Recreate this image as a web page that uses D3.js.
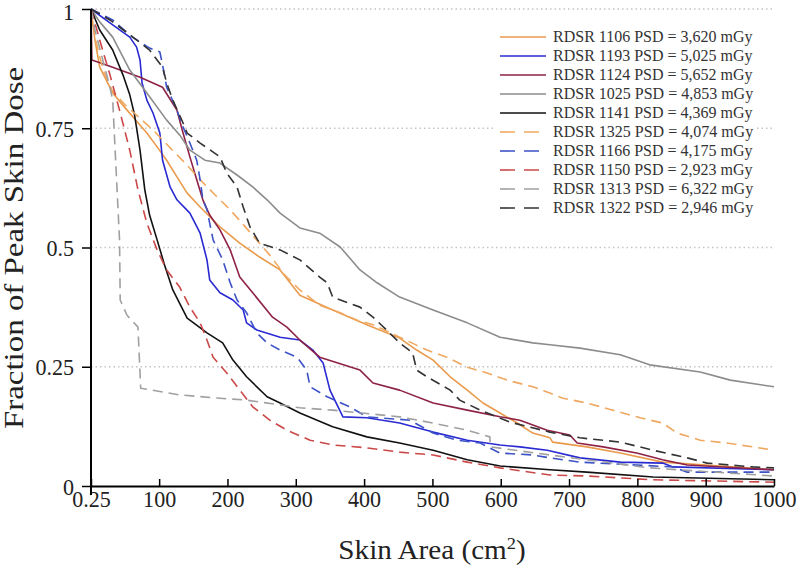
<!DOCTYPE html>
<html><head><meta charset="utf-8">
<script src="https://cdn.jsdelivr.net/npm/d3@7"></script>
<style>body{margin:0;background:#fff}svg{display:block}</style>
</head><body><svg id="c" width="800" height="575"></svg>
<script>
const xTicks = [0.25,100,200,300,400,500,600,700,800,900,1000];
const xTickLabels = ["0.25","100","200","300","400","500","600","700","800","900","1000"];
const yTicks = [0,0.25,0.5,0.75,1];
const yTickLabels = ["0","0.25","0.5","0.75","1"];
const seriesNames = ["RDSR 1106 PSD = 3,620 mGy","RDSR 1193 PSD = 5,025 mGy","RDSR 1124 PSD = 5,652 mGy","RDSR 1025 PSD = 4,853 mGy","RDSR 1141 PSD = 4,369 mGy","RDSR 1325 PSD = 4,074 mGy","RDSR 1166 PSD = 4,175 mGy","RDSR 1150 PSD = 2,923 mGy","RDSR 1313 PSD = 6,322 mGy","RDSR 1322 PSD = 2,946 mGy"];
const s1106 = [[0.25,1],[6,0.935],[13,0.878],[32,0.824],[53,0.788],[82,0.740],[97,0.711],[111,0.683],[126,0.648],[141,0.614],[160,0.585],[189,0.543],[218,0.509],[247,0.480],[277,0.453],[306,0.400],[354,0.369],[404,0.338],[452,0.310],[477,0.285],[501,0.264],[526,0.229],[551,0.201],[574,0.174],[599,0.153],[624,0.132],[647,0.111],[672,0.101],[676,0.092],[726,0.082],[775,0.069],[837,0.050],[921,0.042],[1000,0.034]];
const s1193 = [[0.25,1],[28,0.971],[57,0.941],[67,0.920],[72,0.893],[75,0.845],[82,0.809],[91,0.782],[101,0.740],[105,0.683],[116,0.627],[126,0.600],[145,0.572],[160,0.530],[170,0.474],[174,0.432],[189,0.405],[208,0.390],[223,0.369],[228,0.342],[243,0.327],[277,0.312],[306,0.306],[325,0.285],[340,0.258],[350,0.201],[369,0.145],[404,0.143],[452,0.132],[501,0.113],[551,0.096],[599,0.086],[628,0.082],[668,0.075],[716,0.059],[775,0.050],[837,0.048],[852,0.040],[1000,0.034]];
const s1124 = [[0.25,1],[1.5,0.893],[32,0.878],[72,0.857],[105,0.836],[126,0.788],[135,0.740],[145,0.690],[155,0.642],[164,0.600],[174,0.568],[189,0.537],[204,0.495],[218,0.438],[237,0.405],[266,0.354],[287,0.333],[306,0.306],[335,0.270],[394,0.243],[413,0.216],[452,0.201],[501,0.174],[551,0.159],[599,0.145],[628,0.138],[668,0.117],[701,0.107],[712,0.090],[750,0.082],[799,0.069],[837,0.055],[873,0.044],[1000,0.034]];
const s1025 = [[0.25,1],[13,0.973],[32,0.941],[57,0.872],[82,0.824],[111,0.767],[130,0.736],[145,0.704],[167,0.683],[189,0.677],[214,0.652],[237,0.627],[258,0.600],[277,0.572],[306,0.541],[335,0.530],[365,0.501],[394,0.453],[419,0.426],[452,0.396],[501,0.369],[551,0.342],[599,0.312],[647,0.300],[672,0.296],[716,0.289],[775,0.275],[818,0.254],[892,0.239],[936,0.222],[1000,0.208]];
const s1141 = [[0.25,1],[13,0.956],[32,0.914],[47,0.862],[57,0.820],[64,0.778],[72,0.704],[79,0.621],[86,0.568],[97,0.516],[108,0.463],[120,0.411],[141,0.352],[170,0.321],[193,0.300],[208,0.264],[228,0.229],[258,0.187],[277,0.174],[306,0.153],[354,0.124],[404,0.103],[452,0.090],[501,0.075],[551,0.055],[599,0.042],[672,0.034],[726,0.029],[823,0.019],[1000,0.013]];
const s1325 = [[0.25,1],[7,0.935],[18,0.872],[31,0.830],[50,0.799],[72,0.771],[94,0.742],[116,0.709],[138,0.677],[160,0.642],[182,0.610],[204,0.579],[233,0.532],[262,0.484],[284,0.442],[306,0.411],[335,0.379],[365,0.363],[389,0.348],[413,0.338],[452,0.312],[492,0.285],[521,0.270],[551,0.249],[580,0.237],[609,0.222],[647,0.208],[672,0.195],[691,0.184],[726,0.174],[764,0.159],[804,0.143],[837,0.132],[858,0.111],[892,0.096],[931,0.090],[969,0.082],[1000,0.075]];
const s1166 = [[0.25,1],[32,0.977],[61,0.941],[86,0.918],[101,0.910],[105,0.883],[111,0.836],[126,0.788],[135,0.753],[145,0.719],[155,0.683],[160,0.642],[164,0.600],[170,0.579],[179,0.516],[193,0.474],[204,0.426],[214,0.390],[228,0.363],[243,0.321],[258,0.300],[277,0.285],[302,0.270],[316,0.243],[321,0.208],[346,0.187],[379,0.166],[404,0.145],[467,0.138],[501,0.111],[536,0.096],[570,0.090],[599,0.069],[647,0.065],[672,0.059],[716,0.050],[852,0.040],[873,0.029],[1000,0.029]];
const s1150 = [[0.25,1],[13,0.935],[28,0.862],[42,0.788],[57,0.704],[69,0.621],[82,0.551],[97,0.495],[111,0.453],[130,0.417],[145,0.375],[160,0.342],[170,0.306],[179,0.270],[199,0.237],[218,0.201],[237,0.166],[262,0.138],[287,0.117],[321,0.096],[354,0.086],[404,0.080],[452,0.071],[501,0.065],[551,0.050],[599,0.038],[672,0.023],[726,0.021],[823,0.013],[1000,0.008]];
const s1313 = [[0.25,1],[6,0.956],[28,0.836],[32,0.809],[42,0.516],[43,0.390],[53,0.358],[69,0.333],[73,0.205],[130,0.191],[189,0.184],[228,0.180],[306,0.164],[354,0.159],[452,0.145],[501,0.132],[551,0.117],[584,0.103],[585,0.082],[672,0.065],[818,0.038],[1000,0.021]];
const s1322 = [[0.25,1],[28,0.977],[57,0.946],[86,0.914],[105,0.878],[111,0.845],[120,0.809],[135,0.761],[141,0.740],[160,0.719],[189,0.690],[199,0.656],[214,0.627],[223,0.585],[233,0.543],[247,0.509],[277,0.495],[306,0.474],[335,0.438],[346,0.426],[354,0.396],[394,0.375],[413,0.354],[433,0.327],[452,0.300],[471,0.279],[477,0.243],[492,0.229],[526,0.201],[540,0.180],[570,0.159],[613,0.134],[672,0.113],[716,0.101],[775,0.092],[823,0.075],[873,0.059],[902,0.048],[969,0.040],[1000,0.038]];
const seriesData = [s1106,s1193,s1124,s1025,s1141,s1325,s1166,s1150,s1313,s1322];
const seriesColors = ["#e99a4c","#2a2ad2","#8e2245","#8c8c8c","#111111","#f0a860","#3d52c6","#cc4848","#a0a0a0","#333333"];
const seriesDashed = [false,false,false,false,false,true,true,true,true,true];

const svg = d3.select("#c");
const x = d3.scaleLinear().domain([0.25,1000]).range([91,774]);
const y = d3.scaleLinear().domain([0,1]).range([486,9]);
const font = "'Liberation Serif', 'Times New Roman', serif";

// grid
svg.append("g").selectAll("line").data(yTicks.filter(d=>d>0)).join("line")
  .attr("x1",x(0.25)).attr("x2",x(1000)).attr("y1",d=>y(d)).attr("y2",d=>y(d))
  .attr("stroke","#c4c4c4").attr("stroke-width",1.5).attr("stroke-dasharray","1.5,3");

// lines
const line = d3.line().x(d=>x(d[0])).y(d=>y(d[1]));
const lg = svg.append("g");
seriesData.forEach((s,i)=>{
  lg.append("path").attr("d",line(s)).attr("fill","none")
    .attr("stroke",seriesColors[i]).attr("stroke-width",1.6)
    .attr("stroke-linejoin","round")
    .attr("stroke-dasharray",seriesDashed[i]?"10,6":null);
});

// axes
const xAxis = d3.axisBottom(x).tickValues(xTicks).tickFormat((d,i)=>xTickLabels[i]).tickSizeInner(-7).tickSizeOuter(0).tickPadding(4);
const gx = svg.append("g").attr("transform","translate(0,486)").call(xAxis);
gx.select(".domain").attr("stroke","#000").attr("stroke-width",2);
gx.selectAll(".tick line").attr("stroke","#000").attr("stroke-width",1.5);
gx.selectAll("text").attr("font-family",font).attr("font-size",24).attr("fill","#222")
  .attr("transform","scale(0.92,1)");

const yAxis = d3.axisLeft(y).tickValues(yTicks).tickFormat((d,i)=>yTickLabels[i]).tickSizeInner(9).tickSizeOuter(0).tickPadding(8);
const gy = svg.append("g").attr("transform","translate(91,0)").call(yAxis);
gy.select(".domain").attr("stroke","#000").attr("stroke-width",2).attr("d","M0,9V495");
gy.selectAll(".tick line").attr("stroke","#000").attr("stroke-width",1.5);
gy.selectAll("text").attr("font-family",font).attr("font-size",24).attr("fill","#222")
  .attr("x",-17/0.92).attr("dy",d=>d===1?"0.45em":"0.34em").attr("transform","scale(0.92,1)");

// titles
svg.append("text").attr("transform","translate(432,559) scale(1.08,1)").attr("text-anchor","middle")
  .attr("font-family",font).attr("font-size",27).attr("fill","#222")
  .html('Skin Area (cm<tspan baseline-shift="super" font-size="17">2</tspan>)');
svg.append("text").attr("transform","translate(23,248) rotate(-90) scale(1.22,1)").attr("text-anchor","middle")
  .attr("font-family",font).attr("font-size",27).attr("fill","#222")
  .text("Fraction of Peak Skin Dose");

// legend
const leg = svg.append("g");
leg.append("rect").attr("x",494).attr("y",26).attr("width",262).attr("height",190).attr("fill","#fff");
seriesNames.forEach((n,i)=>{
  const yy = 37 + i*19;
  leg.append("line").attr("x1",500).attr("x2",546).attr("y1",yy).attr("y2",yy)
    .attr("stroke",seriesColors[i]).attr("stroke-width",1.6)
    .attr("stroke-dasharray",seriesDashed[i]?"15,9":null);
  leg.append("text").attr("x",553).attr("y",yy+5).attr("font-family",font)
    .attr("font-size",16).attr("fill","#333").text(n);
});
</script></body></html>
